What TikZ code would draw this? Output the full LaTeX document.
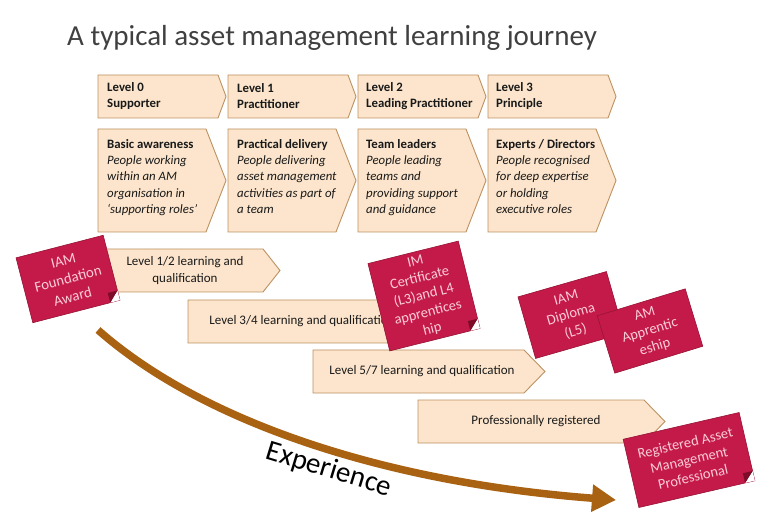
\documentclass[tikz,border=0pt]{standalone}
\usepackage{fontspec}
\setmainfont{Carlito}
\usetikzlibrary{calc,arrows.meta}
\definecolor{peach}{RGB}{252,229,204}
\definecolor{peachline}{RGB}{188,146,98}
\definecolor{cardfill}{RGB}{196,26,74}
\definecolor{cardline}{RGB}{150,20,52}
\definecolor{cardfoldc}{RGB}{125,12,40}
\definecolor{cardtext}{RGB}{250,204,214}
\definecolor{arrowbrown}{RGB}{168,98,18}
\definecolor{titlegray}{RGB}{64,64,64}
\definecolor{bodytext}{RGB}{25,25,25}
\tikzset{
  chevstyle/.style={fill=peach, draw=peachline, line width=0.9pt, line join=miter},
  toptext/.style={inner sep=0pt, anchor=west, align=left, text=bodytext,
    font=\fontsize{12.8}{16}\selectfont\bfseries},
  desctext/.style={inner sep=0pt, anchor=north west, align=left, text=bodytext,
    font=\fontsize{12.8}{16.3}\selectfont},
  bartext/.style={inner sep=0pt, align=center, text=bodytext,
    font=\fontsize{13}{17.5}\selectfont},
  cardnode/.style={fill=cardfill, draw=cardline, line width=0.6pt, inner sep=0pt,
    outer sep=0pt, align=center, text=cardtext,
    font=\fontsize{14.5}{17.5}\selectfont},
}
% name, left x, top y, rect end x, bottom y, tip x
\newcommand\chevbox[6]{%
  \draw[chevstyle] (#2,#3) -- (#4,#3) -- (#6,{(#3+#5)/2}) -- (#4,#5) -- (#2,#5) -- cycle;
  \coordinate (#1) at ({(#2+#4)/2},{(#3+#5)/2});
}
\newcommand\cardcurl[2]{%
  \coordinate (#1-fa) at ($(#1.south east)!#2!(#1.north east)$);
  \coordinate (#1-fb) at ($(#1.south east)!#2!(#1.south west)$);
  \fill[white] (#1-fa) -- (#1.south east) -- (#1-fb) -- cycle;
  \fill[cardfoldc] (#1-fa) -- (#1-fb) -- ($(#1-fa)+(#1-fb)-(#1.south east)$) -- cycle;
}
\begin{document}
\begin{tikzpicture}[x=1pt,y=-1pt]
\useasboundingbox (0,0) rectangle (768,518);
\fill[white] (0,0) rectangle (768,518);

% title
\node[anchor=west, inner sep=0pt, text=titlegray, font=\fontsize{29}{32}\selectfont]
  (title) at (67,38) {A typical asset management learning journey};

% top row
\chevbox{c0}{98}{75}{218}{118}{226}
\chevbox{c1}{228}{75}{348}{118}{356}
\chevbox{c2}{358}{75}{478}{118}{486}
\chevbox{c3}{488}{75}{608}{118}{616}
\node[toptext] (t0) at (107,96.5) {Level 0\\Supporter};
\node[toptext] (t1) at (237,96.5) {Level 1\\Practitioner};
\node[toptext] (t2) at (366,96.5) {Level 2\\Leading Practitioner};
\node[toptext] (t3) at (496,96.5) {Level 3\\Principle};

% second row
\chevbox{d0}{98}{129}{206}{232}{226}
\chevbox{d1}{228}{129}{336}{232}{356}
\chevbox{d2}{358}{129}{466}{232}{486}
\chevbox{d3}{488}{129}{596}{232}{616}
\node[desctext] (e0) at (107,139) {\textbf{Basic awareness}\\\textit{People working}\\\textit{within an AM}\\\textit{organisation in}\\\textit{‘supporting roles’}};
\node[desctext] (e1) at (237,139) {\textbf{Practical delivery}\\\textit{People delivering}\\\textit{asset management}\\\textit{activities as part of}\\\textit{a team}};
\node[desctext] (e2) at (366,139) {\textbf{Team leaders}\\\textit{People leading}\\\textit{teams and}\\\textit{providing support}\\\textit{and guidance}};
\node[desctext] (e3) at (496,139) {\textbf{Experts / Directors}\\\textit{People recognised}\\\textit{for deep expertise}\\\textit{or holding}\\\textit{executive roles}};

% learning bars
\chevbox{ba}{105}{249}{263}{292}{280}
\node[bartext] (bat) at (185,270.5) {Level 1/2 learning and\\qualification};
\chevbox{bb}{188}{300}{415}{343}{436}
\node[bartext] (bbt) at (302,321.5) {Level 3/4 learning and qualification};
\chevbox{bc}{313}{350}{524}{393}{545}
\node[bartext] (bct) at (422,371.5) {Level 5/7 learning and qualification};
\chevbox{bd}{418}{400}{644}{443}{665}
\node[bartext] (bdt) at (536,421.5) {Professionally registered};

% experience arrow
\coordinate (exs) at (98,330);
\coordinate (exe) at (616,500);
\draw[arrowbrown, line width=7.5pt, -{Triangle[length=24pt,width=26pt]}]
  (exs) .. controls (200,420) and (380,482) .. (exe);
\node[rotate=-17, inner sep=0pt, text=black, font=\fontsize{29}{32}\selectfont]
  (exp) at (329,470) {Experience};

% cards
\node[cardnode, rotate=14.5, minimum width=90pt, minimum height=67pt,
  font=\fontsize{14.8}{18.5}\selectfont] (fa) at (68,279)
  {IAM\\Foundation\\Award};
\cardcurl{fa}{10pt}
\node[cardnode, rotate=14, minimum width=93pt, minimum height=90pt] (cert) at (424,296)
  {IM\\Certificate\\(L3)and L4\\apprentices\\hip};
\cardcurl{cert}{10pt}
\node[cardnode, rotate=16, minimum width=92pt, minimum height=64pt] (dip) at (571,315)
  {IAM\\Diploma\\(L5)};
\node[cardnode, rotate=17, minimum width=92pt, minimum height=60pt] (amap) at (650,331)
  {AM\\Apprentic\\eship};
\node[cardnode, rotate=13, minimum width=119pt, minimum height=70pt] (reg) at (689,460)
  {Registered Asset\\Management\\Professional};
\cardcurl{reg}{10pt}
\end{tikzpicture}
\end{document}
